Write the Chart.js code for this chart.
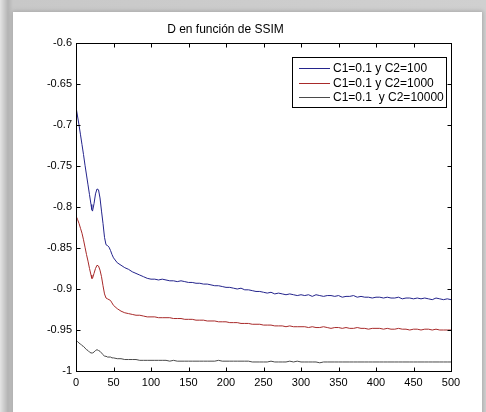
<!DOCTYPE html>
<html>
<head>
<meta charset="utf-8">
<title>D en función de SSIM</title>
<script src="https://cdn.jsdelivr.net/npm/chart.js@4.4.1/dist/chart.umd.min.js"></script>
<style>
    html, body { margin: 0; padding: 0; }
    body {
        width: 486px;
        height: 412px;
        overflow: hidden;
        position: relative;
        background: linear-gradient(to right, #e4e4e4 0px, #b4b4b4 8px, #c8c8c8 13px, #d0d0d0 100%);
    }
    #frame {
        position: absolute;
        left: 13px;
        top: 12px;
        width: 469px;
        height: 420px;
        background: #ffffff;
        box-shadow: 0 0 4px 1px #a8a8a8;
    }
    #chart {
        position: absolute;
        left: 0;
        top: 0;
    }
</style>
</head>
<body>
<div id="frame"></div>
<canvas id="chart" width="486" height="412"></canvas>
<script>
// iteration index (x axis)
const xs = [
    0, 2, 4, 6, 8, 10, 12, 14, 16, 18, 20, 21, 22, 24, 26, 28, 30, 32, 34, 36, 38, 40, 42, 44, 46, 48, 50,
    55, 60, 65, 70, 75, 80, 85, 90, 95,
    100, 105, 110, 115, 120, 125, 130, 135, 140, 145,
    150, 155, 160, 165, 170, 175, 180, 185, 190, 195,
    200, 205, 210, 215, 220, 225, 230, 235, 240, 245,
    250, 255, 260, 265, 270, 275, 280, 285, 290, 295,
    300, 305, 310, 315, 320, 325, 330, 335, 340, 345,
    350, 355, 360, 365, 370, 375, 380, 385, 390, 395,
    400, 405, 410, 415, 420, 425, 430, 435, 440, 445,
    450, 455, 460, 465, 470, 475, 480, 485, 490, 495,
    500
];

// C1=0.1 y C2=100
const serieC2_100 = [
    -0.678, -0.689, -0.700, -0.712, -0.724, -0.736, -0.749, -0.761, -0.773, -0.785, -0.797, -0.803, -0.805,
    -0.796, -0.784, -0.778, -0.779, -0.789, -0.805, -0.820, -0.837, -0.846, -0.847, -0.849, -0.853, -0.858, -0.862,
    -0.868, -0.871, -0.874, -0.876, -0.879, -0.881, -0.883, -0.885, -0.887,
    -0.888, -0.888, -0.889, -0.888, -0.889, -0.890, -0.890, -0.891, -0.890, -0.891,
    -0.892, -0.892, -0.893, -0.893, -0.894, -0.894, -0.895, -0.896, -0.896, -0.897,
    -0.898, -0.898, -0.899, -0.900, -0.899, -0.901, -0.901, -0.902, -0.903, -0.903,
    -0.904, -0.905, -0.904, -0.906, -0.905, -0.906, -0.907, -0.906, -0.907, -0.908,
    -0.907, -0.908, -0.907, -0.909, -0.907, -0.908, -0.909, -0.908, -0.908, -0.909,
    -0.908, -0.910, -0.909, -0.909, -0.908, -0.910, -0.909, -0.910, -0.910, -0.911,
    -0.910, -0.910, -0.911, -0.910, -0.911, -0.911, -0.910, -0.912, -0.911, -0.911,
    -0.912, -0.911, -0.912, -0.911, -0.912, -0.913, -0.911, -0.912, -0.913, -0.912,
    -0.913
];

// C1=0.1 y C2=1000
const serieC2_1000 = [
    -0.811, -0.815, -0.820, -0.826, -0.832, -0.840, -0.849, -0.858, -0.866, -0.875, -0.883, -0.887, -0.887,
    -0.881, -0.875, -0.871, -0.872, -0.877, -0.885, -0.896, -0.906, -0.911, -0.912, -0.913, -0.914, -0.917, -0.920,
    -0.924, -0.927, -0.929, -0.930, -0.931, -0.932, -0.932, -0.933, -0.934,
    -0.934, -0.934, -0.935, -0.935, -0.935, -0.935, -0.936, -0.936, -0.936, -0.937,
    -0.937, -0.937, -0.938, -0.938, -0.938, -0.939, -0.939, -0.939, -0.940, -0.940,
    -0.940, -0.941, -0.941, -0.941, -0.942, -0.942, -0.942, -0.943, -0.943, -0.943,
    -0.944, -0.944, -0.944, -0.945, -0.945, -0.945, -0.946, -0.945, -0.946, -0.946,
    -0.946, -0.946, -0.947, -0.946, -0.947, -0.947, -0.946, -0.947, -0.948, -0.947,
    -0.947, -0.948, -0.947, -0.948, -0.948, -0.947, -0.948, -0.948, -0.949, -0.948,
    -0.948, -0.948, -0.949, -0.948, -0.949, -0.949, -0.948, -0.949, -0.949, -0.950,
    -0.949, -0.949, -0.950, -0.949, -0.949, -0.950, -0.949, -0.950, -0.950, -0.950,
    -0.950
];

// C1=0.1  y C2=10000
const serieC2_10000 = [
    -0.963, -0.964, -0.966, -0.967, -0.969, -0.970, -0.972, -0.974, -0.975, -0.977, -0.978, -0.978, -0.978,
    -0.977, -0.975, -0.974, -0.975, -0.976, -0.978, -0.980, -0.982, -0.982, -0.983, -0.983, -0.983, -0.984, -0.984,
    -0.985, -0.985, -0.986, -0.986, -0.986, -0.986, -0.987, -0.987, -0.987,
    -0.987, -0.987, -0.987, -0.987, -0.987, -0.988, -0.987, -0.988, -0.988, -0.988,
    -0.988, -0.988, -0.988, -0.988, -0.988, -0.988, -0.988, -0.988, -0.987, -0.988,
    -0.988, -0.988, -0.988, -0.988, -0.988, -0.988, -0.988, -0.989, -0.989, -0.989,
    -0.989, -0.989, -0.988, -0.989, -0.989, -0.989, -0.989, -0.988, -0.989, -0.988,
    -0.989, -0.989, -0.989, -0.989, -0.989, -0.990, -0.989, -0.989, -0.989, -0.989,
    -0.989, -0.989, -0.989, -0.989, -0.989, -0.989, -0.989, -0.989, -0.989, -0.989,
    -0.989, -0.989, -0.989, -0.989, -0.989, -0.989, -0.989, -0.989, -0.989, -0.989,
    -0.989, -0.989, -0.989, -0.989, -0.989, -0.989, -0.989, -0.989, -0.989, -0.989,
    -0.989
];

const seriesLabels = ['C1=0.1 y C2=100', 'C1=0.1 y C2=1000', 'C1=0.1  y C2=10000'];
const seriesColors = ['#24248c', '#a82a2a', '#4a4a4a'];

const xTickLabels = ['0', '50', '100', '150', '200', '250', '300', '350', '400', '450', '500'];
const yTickLabels = ['-1', '-0.95', '-0.9', '-0.85', '-0.8', '-0.75', '-0.7', '-0.65', '-0.6'];

const FONT = 'Liberation Sans, Arial, Helvetica, sans-serif';

function toPoints(values) {
    return values.map((v, i) => ({ x: xs[i], y: v }));
}

// box around the axes plus inward ticks on all four sides, like matlab
const boxPlugin = {
    id: 'matlabBox',
    afterDatasetsDraw(chart) {
        const ctx = chart.ctx;
        const area = chart.chartArea;
        const xScale = chart.scales.x;
        const yScale = chart.scales.y;
        const tickLen = 4;
        const l = Math.round(area.left) + 0.5;
        const r = Math.round(area.right) + 0.5;
        const t = Math.round(area.top) + 0.5;
        const b = Math.round(area.bottom) + 0.5;

        ctx.save();
        ctx.strokeStyle = '#000';
        ctx.lineWidth = 1;
        ctx.strokeRect(l, t, r - l, b - t);

        ctx.beginPath();
        xScale.ticks.forEach(tick => {
            const px = Math.round(xScale.getPixelForValue(tick.value)) + 0.5;
            ctx.moveTo(px, b);
            ctx.lineTo(px, b - tickLen);
            ctx.moveTo(px, t);
            ctx.lineTo(px, t + tickLen);
        });
        yScale.ticks.forEach(tick => {
            const py = Math.round(yScale.getPixelForValue(tick.value)) + 0.5;
            ctx.moveTo(l, py);
            ctx.lineTo(l + tickLen, py);
            ctx.moveTo(r, py);
            ctx.lineTo(r - tickLen, py);
        });
        ctx.stroke();
        ctx.restore();
    }
};

// legend box drawn inside the top right corner of the axes
const insideLegend = {
    id: 'insideLegend',
    afterDraw(chart) {
        const ctx = chart.ctx;
        const area = chart.chartArea;
        const boxW = 154;
        const boxH = 50;
        const right = Math.round(area.right) - 5;
        const top = Math.round(area.top) + 14;
        const left = right - boxW;
        const rowH = 14.5;

        ctx.save();
        ctx.fillStyle = '#fff';
        ctx.fillRect(left, top, boxW, boxH);
        ctx.strokeStyle = '#000';
        ctx.lineWidth = 1;
        ctx.strokeRect(left + 0.5, top + 0.5, boxW, boxH);

        ctx.font = '12px ' + FONT;
        ctx.textBaseline = 'middle';
        ctx.textAlign = 'left';
        chart.data.datasets.forEach((ds, i) => {
            const y = Math.round(top + 11 + i * rowH) + 0.5;
            ctx.strokeStyle = ds.borderColor;
            ctx.beginPath();
            ctx.moveTo(left + 7, y);
            ctx.lineTo(left + 38, y);
            ctx.stroke();
            ctx.fillStyle = '#000';
            ctx.fillText(ds.label, left + 41, y);
        });
        ctx.restore();
    }
};

const ctx = document.getElementById('chart').getContext('2d');

new Chart(ctx, {
    type: 'line',
    data: {
        datasets: [serieC2_100, serieC2_1000, serieC2_10000].map((values, i) => ({
            label: seriesLabels[i],
            data: toPoints(values),
            borderColor: seriesColors[i],
            backgroundColor: seriesColors[i],
            borderWidth: 1,
            pointRadius: 0,
            tension: 0,
            fill: false,
        })),
    },
    options: {
        responsive: false,
        animation: false,
        layout: {
            padding: { top: 0, right: 35, bottom: 0, left: 0 }
        },
        plugins: {
            legend: { display: false },
            tooltip: { enabled: false },
            title: {
                display: true,
                text: 'D en función de SSIM',
                color: '#000',
                font: { family: FONT, size: 12, weight: 'normal' },
                padding: { top: 22, bottom: 6.6 }
            }
        },
        scales: {
            x: {
                type: 'linear',
                min: 0,
                max: 500,
                grid: { display: false, drawTicks: false },
                border: { display: false },
                ticks: {
                    stepSize: 50,
                    color: '#000',
                    padding: 5,
                    maxRotation: 0,
                    font: { family: FONT, size: 11 },
                    callback: (value, index) => xTickLabels[index]
                },
                afterFit(scale) { scale.height = 41; }
            },
            y: {
                type: 'linear',
                min: -1,
                max: -0.6,
                grid: { display: false, drawTicks: false },
                border: { display: false },
                ticks: {
                    stepSize: 0.05,
                    color: '#000',
                    padding: 4,
                    font: { family: FONT, size: 11 },
                    callback: (value, index) => yTickLabels[index]
                },
                afterFit(scale) { scale.width = 76; }
            }
        }
    },
    plugins: [boxPlugin, insideLegend]
});
</script>
</body>
</html>
